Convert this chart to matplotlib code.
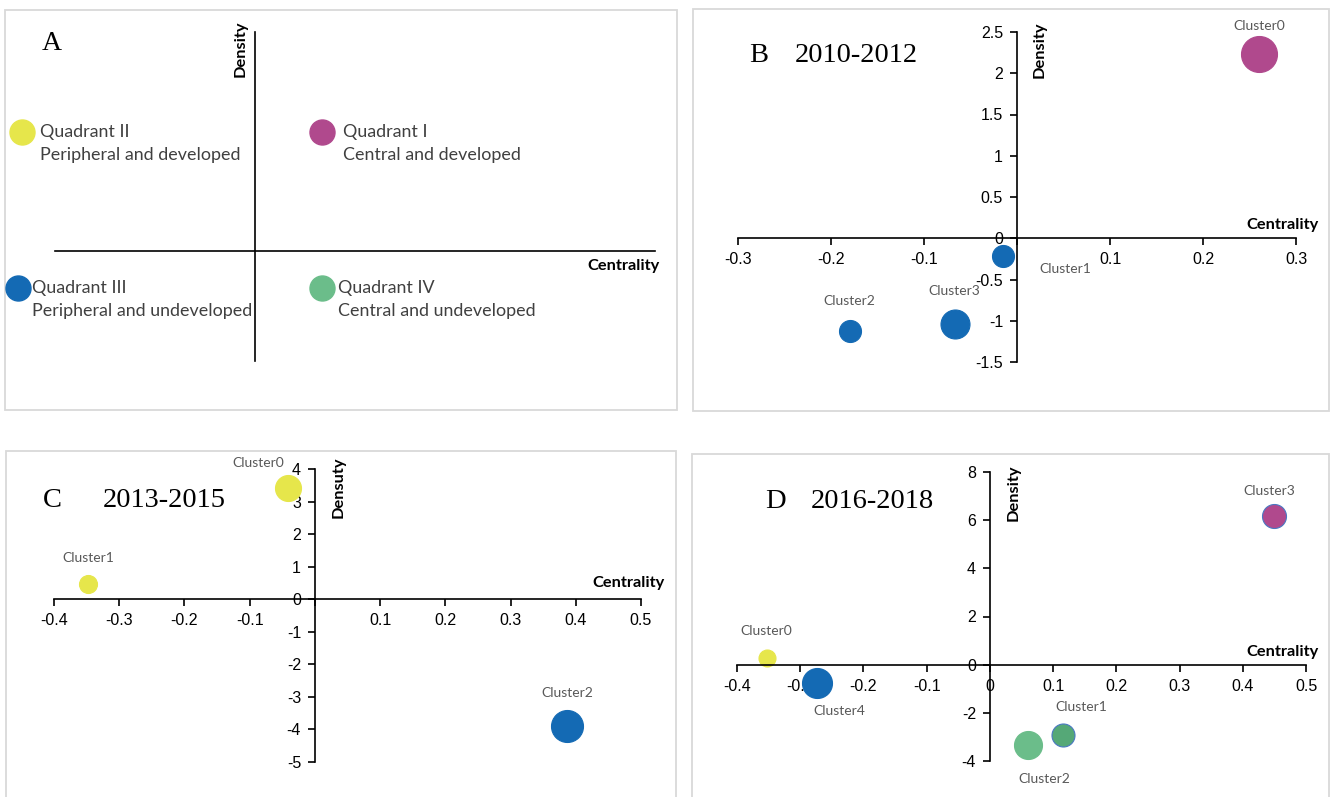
import matplotlib.pyplot as plt
from matplotlib.patches import Rectangle
from matplotlib.ticker import FixedLocator

W, H = 1332, 797
fig = plt.figure(figsize=(W / 100, H / 100), dpi=100)

YELLOW = '#e6e64b'
MAGENTA = '#b0498d'
BLUE = '#146ab4'
GREEN = '#6bbd8a'
DKGREEN = '#55a877'
EDGE = '#4a78c2'

LABEL_FONT = ['Lato', 'DejaVu Sans']
TICK_FONT = ['Liberation Sans Narrow', 'Liberation Sans']
TITLE_FONT = ['Liberation Serif']

# ---- A: quadrant legend ----
quad_names = ['Quadrant II', 'Quadrant I', 'Quadrant III', 'Quadrant IV']
quad_desc = ['Peripheral and developed', 'Central and developed',
             'Peripheral and undeveloped', 'Central and undeveloped']
quad_colors = [YELLOW, MAGENTA, BLUE, GREEN]

# ---- B: 2010-2012 ----
b_names = ['Cluster0', 'Cluster1', 'Cluster2', 'Cluster3']
b_centrality = [0.26, -0.015, -0.18, -0.067]
b_density = [2.23, -0.21, -1.12, -1.04]
b_size = [36, 22, 22, 29]
b_colors = [MAGENTA, BLUE, BLUE, BLUE]
b_xticks = [-0.3, -0.2, -0.1, 0, 0.1, 0.2, 0.3]
b_yticks = [-1.5, -1, -0.5, 0, 0.5, 1, 1.5, 2, 2.5]

# ---- C: 2013-2015 ----
c_names = ['Cluster0', 'Cluster1', 'Cluster2']
c_centrality = [-0.041, -0.348, 0.387]
c_density = [3.41, 0.47, -3.9]
c_size = [26, 18, 32]
c_colors = [YELLOW, YELLOW, BLUE]
c_xticks = [-0.4, -0.3, -0.2, -0.1, 0, 0.1, 0.2, 0.3, 0.4, 0.5]
c_yticks = [-5, -4, -3, -2, -1, 0, 1, 2, 3, 4]

# ---- D: 2016-2018 ----
d_names = ['Cluster0', 'Cluster1', 'Cluster2', 'Cluster3', 'Cluster4']
d_centrality = [-0.353, 0.116, 0.061, 0.449, -0.273]
d_density = [0.29, -2.93, -3.33, 6.19, -0.75]
d_size = [17, 23, 28, 24, 30]
d_colors = [YELLOW, DKGREEN, GREEN, MAGENTA, BLUE]
d_edges = [YELLOW, EDGE, GREEN, EDGE, BLUE]
d_xticks = [-0.4, -0.3, -0.2, -0.1, 0, 0.1, 0.2, 0.3, 0.4, 0.5]
d_yticks = [-4, -2, 0, 2, 4, 6, 8]


def px_axes(x0, y0, x1, y1):
    return fig.add_axes([x0 / W, 1 - y1 / H, (x1 - x0) / W, (y1 - y0) / H])


def ftext(x, y, s, **kw):
    fig.text(x / W, 1 - y / H, s, **kw)


def frame(x0, y0, x1, y1):
    fig.add_artist(Rectangle((x0 / W, 1 - y1 / H), (x1 - x0) / W, (y1 - y0) / H,
                             transform=fig.transFigure, fill=False,
                             edgecolor='#d9d9d9', linewidth=1.3))


def cross_axes(ax):
    for side in ['top', 'right']:
        ax.spines[side].set_visible(False)
    for side in ['left', 'bottom']:
        ax.spines[side].set_position(('data', 0))
        ax.spines[side].set_linewidth(1.2)
    ax.patch.set_alpha(0)


def axis_titles(x_density, y_density, x_cent, y_cent, density='Density'):
    ftext(x_density, y_density, density, fontsize=11.8, weight='bold',
          family=LABEL_FONT, rotation=90, ha='center', va='center')
    ftext(x_cent, y_cent, 'Centrality', fontsize=11.8, weight='bold',
          family=LABEL_FONT, ha='right', va='center')


def bubble_panel(ax, xs, ys, sizes, colors, names, offsets, xticks, yticks,
                 xlim, ylim, show_x0, edges=None):
    cross_axes(ax)
    ax.set_xlim(xlim)
    ax.set_ylim(ylim)
    edges = edges or colors
    for x, y, d, c, e, n, off in zip(xs, ys, sizes, colors, edges, names, offsets):
        ax.scatter([x], [y], s=(d * 0.72) ** 2, color=c, edgecolors=e,
                   linewidths=0.8, zorder=2, clip_on=False)
        ax.annotate(n, (x, y), xytext=(off[0] * 0.72, -off[1] * 0.72),
                    textcoords='offset points', ha='center', va='center',
                    fontsize=10, color='#595959', family=LABEL_FONT)
    ax.xaxis.set_major_locator(FixedLocator(xticks))
    ax.set_xticklabels(['' if (v == 0 and not show_x0) else f'{v:g}' for v in xticks])
    ax.yaxis.set_major_locator(FixedLocator(yticks))
    ax.set_yticklabels([f'{v:g}' for v in yticks])
    ax.tick_params(direction='out', length=5, width=1.2, labelsize=11.5, pad=5)
    for lab in ax.get_xticklabels() + ax.get_yticklabels():
        lab.set_family(TICK_FONT)


# panel frames
frame(5, 10, 677, 410)
frame(693, 9, 1329, 411)
frame(6, 451, 676, 800)
frame(692, 454, 1329, 800)

# ---- A ----
axA = px_axes(55, 32, 655, 361)
cross_axes(axA)
axA.set_xlim(-1, 2)
axA.set_ylim(-1, 2)
axA.set_xticks([])
axA.set_yticks([])
quad_layout = [(22, 132, 40), (322, 132, 343), (18, 288, 32), (322, 288, 338)]
for (cx, cy, tx), name, desc, col in zip(quad_layout, quad_names, quad_desc, quad_colors):
    fig.add_artist(plt.Line2D([cx / W], [1 - cy / H], transform=fig.transFigure,
                              marker='o', markersize=18, color=col, linestyle='none'))
    ftext(tx, cy, name, fontsize=12.9, color='#404040', family=LABEL_FONT, va='center')
    ftext(tx, cy + 23, desc, fontsize=12.9, color='#404040', family=LABEL_FONT, va='center')
ftext(52, 43, 'A', fontsize=20, family=TITLE_FONT, ha='center', va='center')
axis_titles(241, 49, 660, 266)

# ---- B ----
axB = px_axes(738, 32, 1296, 362)
bubble_panel(axB, b_centrality, b_density, b_size, b_colors, b_names,
             [(0, -28), (62, 13), (0, -30), (0, -33)],
             b_xticks, b_yticks, (-0.3, 0.3), (-1.5, 2.5), False)
ftext(759, 55, 'B', fontsize=20.5, family=TITLE_FONT, ha='center', va='center')
ftext(856, 55, '2010-2012', fontsize=20.5, family=TITLE_FONT, ha='center', va='center')
axis_titles(1040, 50, 1319, 225)

# ---- C ----
axC = px_axes(54, 469, 641, 762)
bubble_panel(axC, c_centrality, c_density, c_size, c_colors, c_names,
             [(-30, -25), (0, -26), (0, -33)],
             c_xticks, c_yticks, (-0.4, 0.5), (-5, 4), False)
ftext(52, 500, 'C', fontsize=20.5, family=TITLE_FONT, ha='center', va='center')
ftext(164, 500, '2013-2015', fontsize=20.5, family=TITLE_FONT, ha='center', va='center')
axis_titles(339, 487, 665, 583, density='Densuty')

# ---- D ----
axD = px_axes(737, 472, 1306, 761)
bubble_panel(axD, d_centrality, d_density, d_size, d_colors, d_names,
             [(0, -27), (18, -28), (16, 34), (-5, -25), (22, 28)],
             d_xticks, d_yticks, (-0.4, 0.5), (-4, 8), True, edges=d_edges)
ftext(775, 501, 'D', fontsize=20.5, family=TITLE_FONT, ha='center', va='center')
ftext(872, 501, '2016-2018', fontsize=20.5, family=TITLE_FONT, ha='center', va='center')
axis_titles(1014, 493, 1319, 652)

fig.savefig('out.png', dpi=100)
